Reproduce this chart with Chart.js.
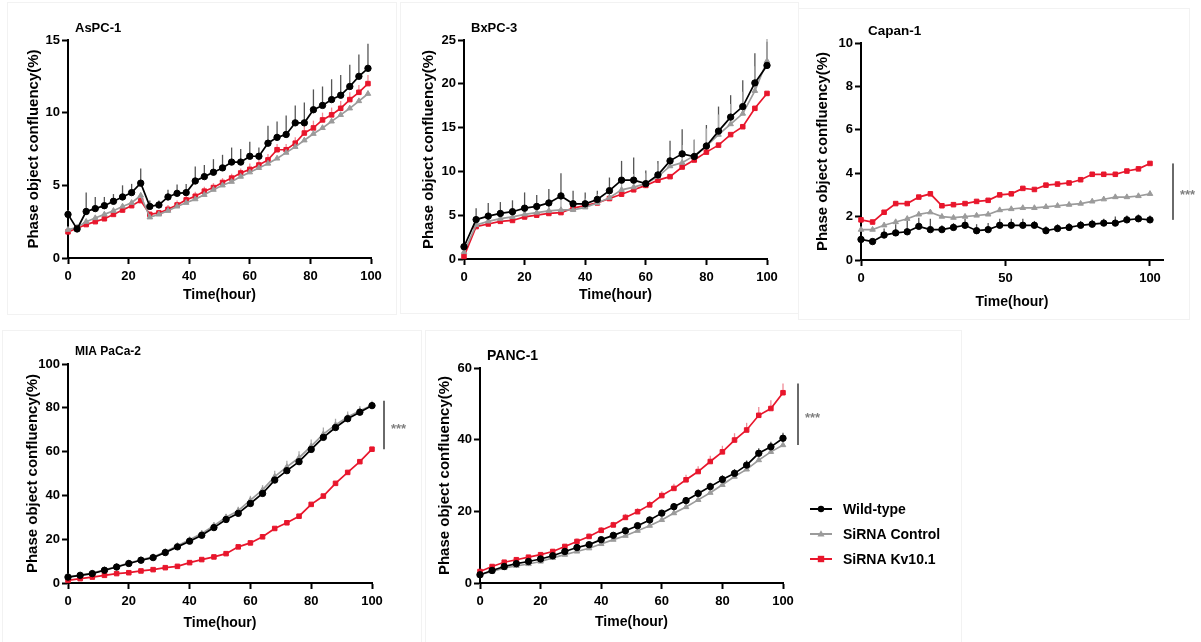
<!DOCTYPE html>
<html>
<head>
<meta charset="utf-8">
<title>Phase object confluency</title>
<script src="https://cdn.jsdelivr.net/npm/chart.js@4.4.0/dist/chart.umd.min.js"></script>
<style>
  body { margin: 0; background: #fff; }
  #wrap { position: relative; width: 1201px; height: 642px; overflow: hidden; }
  .frame { position: absolute; border: 1px solid #f2f2f2; }
  canvas { position: absolute; }
</style>
</head>
<body>
<div id="wrap">
  <div class="frame" style="left:7px;top:2px;width:388px;height:311px"></div>
  <div class="frame" style="left:400px;top:2px;width:397px;height:310px"></div>
  <div class="frame" style="left:798px;top:8px;width:390px;height:310px"></div>
  <div class="frame" style="left:2px;top:330px;width:418px;height:320px"></div>
  <div class="frame" style="left:425px;top:330px;width:535px;height:320px"></div>

  <canvas id="aspc"  width="397" height="316" style="left:0;top:0"></canvas>
  <canvas id="bxpc"  width="398" height="316" style="left:398px;top:0"></canvas>
  <canvas id="capan" width="404" height="320" style="left:797px;top:0"></canvas>
  <canvas id="mia"   width="422" height="320" style="left:0;top:322px"></canvas>
  <canvas id="panc"  width="540" height="320" style="left:424px;top:322px"></canvas>
</div>

<script>
// sampling times (hours)
const hours3 = [0, 3, 6, 9, 12, 15, 18, 21, 24, 27, 30, 33, 36, 39, 42, 45, 48, 51, 54, 57, 60, 63, 66, 69, 72, 75, 78, 81, 84, 87, 90, 93, 96, 99];
const hours4 = [0, 4, 8, 12, 16, 20, 24, 28, 32, 36, 40, 44, 48, 52, 56, 60, 64, 68, 72, 76, 80, 84, 88, 92, 96, 100];

// AsPC-1
const aspcWild = [3.0, 2.0, 3.2, 3.4, 3.6, 3.9, 4.2, 4.5, 5.15, 3.55, 3.65, 4.2, 4.45, 4.5, 5.3, 5.6, 5.9, 6.2, 6.6, 6.6, 7.0, 7.0, 7.9, 8.3, 8.5, 9.3, 9.3, 10.2, 10.5, 10.9, 11.2, 11.8, 12.5, 13.05];
const aspcCtrl = [1.95, 2.1, 2.5, 2.75, 3.0, 3.25, 3.55, 3.8, 4.3, 2.8, 3.0, 3.25, 3.55, 3.8, 4.05, 4.35, 4.7, 5.0, 5.25, 5.6, 5.9, 6.2, 6.5, 6.85, 7.25, 7.65, 8.1, 8.55, 8.95, 9.4, 9.85, 10.3, 10.8, 11.3];
const aspcKv   = [1.8, 2.05, 2.3, 2.5, 2.7, 3.0, 3.3, 3.6, 3.95, 3.0, 3.1, 3.35, 3.65, 4.0, 4.25, 4.6, 4.85, 5.2, 5.5, 5.85, 6.1, 6.4, 6.75, 7.45, 7.45, 7.9, 8.6, 8.95, 9.5, 9.85, 10.3, 10.9, 11.4, 12.0];
const aspcWildErr = [0.3, 0.2, 1.3, 0.8, 0.6, 0.5, 0.8, 0.6, 1.0, 0.4, 0.3, 0.5, 0.6, 0.6, 1.0, 0.8, 0.9, 0.9, 1.0, 0.9, 1.0, 0.6, 1.2, 1.1, 1.3, 1.2, 1.4, 1.4, 1.3, 1.4, 1.4, 1.5, 1.5, 1.7];
const aspcKvErr   = [0.2, 0.2, 0.3, 0.3, 0.3, 0.3, 0.3, 0.3, 0.4, 0.2, 0.2, 0.3, 0.3, 0.3, 0.3, 0.3, 0.3, 0.3, 0.3, 0.3, 0.4, 0.4, 0.4, 0.4, 0.4, 0.4, 0.5, 0.5, 0.5, 0.5, 0.5, 0.5, 0.5, 0.6];

// BxPC-3
const bxWild = [1.4, 4.5, 4.9, 5.2, 5.4, 5.8, 6.0, 6.4, 7.2, 6.3, 6.3, 6.8, 7.8, 9.0, 9.0, 8.6, 9.6, 11.2, 12.0, 11.7, 12.9, 14.6, 16.2, 17.4, 20.1, 22.1];
const bxCtrl = [0.8, 3.9, 4.3, 4.6, 4.8, 5.1, 5.3, 5.5, 5.6, 5.6, 5.9, 6.4, 7.0, 7.9, 8.2, 8.6, 9.4, 10.6, 11.0, 11.8, 12.9, 14.2, 15.4, 16.6, 19.2, 22.6];
const bxKv   = [0.3, 3.7, 4.0, 4.3, 4.4, 4.8, 5.0, 5.2, 5.3, 5.8, 6.1, 6.4, 6.9, 7.4, 7.9, 8.4, 9.0, 9.4, 10.5, 11.3, 12.2, 13.0, 14.2, 15.1, 17.2, 18.9];
const bxWildErr = [0.3, 1.3, 1.5, 1.3, 1.3, 1.8, 1.3, 1.6, 2.6, 1.5, 1.3, 1.0, 1.5, 2.2, 2.6, 1.5, 1.6, 2.3, 2.8, 1.9, 2.4, 2.8, 2.5, 3.0, 3.4, 2.7];
const bxCtrlErr = [0.3, 0.8, 0.8, 0.8, 0.8, 1.0, 1.0, 1.0, 1.5, 1.2, 1.0, 1.0, 1.2, 1.5, 1.5, 1.2, 1.5, 1.8, 2.0, 1.8, 2.0, 2.3, 2.3, 2.5, 2.8, 2.5];

// Capan-1
const capWild = [0.95, 0.85, 1.15, 1.25, 1.3, 1.55, 1.4, 1.4, 1.5, 1.6, 1.35, 1.4, 1.6, 1.6, 1.6, 1.6, 1.35, 1.45, 1.5, 1.6, 1.65, 1.7, 1.7, 1.85, 1.9, 1.85];
const capCtrl = [1.4, 1.4, 1.6, 1.75, 1.9, 2.1, 2.2, 2.0, 1.95, 2.0, 2.05, 2.1, 2.3, 2.35, 2.4, 2.4, 2.45, 2.5, 2.55, 2.6, 2.7, 2.8, 2.9, 2.9, 2.95, 3.05];
const capKv   = [1.85, 1.75, 2.2, 2.6, 2.6, 2.9, 3.05, 2.5, 2.55, 2.6, 2.7, 2.75, 3.0, 3.05, 3.3, 3.25, 3.45, 3.5, 3.55, 3.7, 3.95, 3.95, 3.95, 4.1, 4.2, 4.45];
const capWildErr = [0.1, 0.1, 0.3, 0.4, 0.5, 0.4, 0.5, 0.2, 0.2, 0.3, 0.3, 0.3, 0.3, 0.3, 0.3, 0.2, 0.2, 0.2, 0.2, 0.2, 0.2, 0.2, 0.3, 0.2, 0.2, 0.2];

// MIA PaCa-2
const miaWild = [2.7, 3.5, 4.3, 5.8, 7.3, 8.9, 10.4, 11.6, 13.9, 16.5, 19.1, 21.8, 25.3, 29.0, 31.8, 36.3, 40.9, 47.0, 51.3, 55.4, 61.0, 66.5, 71.0, 75.0, 78.0, 81.0];
const miaCtrl = [2.8, 3.6, 4.5, 6.0, 7.5, 9.1, 10.6, 11.9, 14.3, 17.0, 19.7, 22.6, 26.2, 30.0, 33.0, 37.8, 42.5, 48.6, 53.0, 57.2, 62.5, 68.0, 72.2, 75.8, 78.6, 81.2];
const miaKv   = [1.2, 2.0, 2.7, 3.5, 4.3, 4.7, 5.5, 6.1, 7.0, 7.6, 9.3, 10.7, 11.9, 13.4, 16.5, 18.3, 21.1, 24.9, 27.5, 30.5, 35.9, 39.7, 45.5, 50.5, 55.4, 61.1];
const miaCtrlErr = [0.3, 0.3, 0.4, 0.5, 0.6, 0.7, 0.8, 0.9, 1.0, 1.1, 1.2, 1.3, 1.5, 1.6, 1.8, 2.0, 2.2, 2.6, 2.8, 3.0, 3.0, 3.0, 2.8, 2.5, 2.2, 2.0];

// PANC-1
const pancWild = [2.3, 3.5, 4.6, 5.4, 6.0, 6.7, 7.6, 8.8, 9.9, 10.7, 12.1, 13.3, 14.6, 16.0, 17.6, 19.5, 21.3, 23.0, 25.0, 26.9, 28.9, 30.6, 32.9, 36.2, 38.0, 40.4];
const pancCtrl = [2.3, 3.2, 4.2, 4.8, 5.3, 6.0, 7.0, 7.9, 8.8, 9.7, 10.9, 12.1, 13.2, 14.6, 16.0, 17.6, 19.5, 21.2, 23.2, 25.2, 27.4, 29.7, 31.7, 34.3, 36.6, 38.5];
const pancKv   = [3.2, 4.6, 5.8, 6.5, 7.2, 7.9, 8.8, 10.2, 11.6, 13.0, 14.7, 16.2, 18.3, 19.9, 21.8, 24.4, 26.4, 28.8, 31.1, 33.9, 36.6, 39.9, 42.7, 46.8, 48.7, 53.1];
const pancWildErr = [0.3, 0.4, 0.4, 0.4, 0.5, 0.5, 0.5, 0.6, 0.6, 0.6, 0.7, 0.7, 0.8, 0.8, 0.9, 0.9, 1.0, 1.0, 1.1, 1.1, 1.2, 1.2, 1.3, 1.4, 1.4, 1.5];
const pancKvErr   = [0.4, 0.5, 0.5, 0.5, 0.6, 0.6, 0.7, 0.7, 0.8, 0.8, 0.9, 0.9, 1.0, 1.0, 1.1, 1.2, 1.3, 1.4, 1.5, 1.6, 1.7, 1.9, 2.0, 2.3, 2.3, 2.6];

const seriesNames   = ['Wild-type', 'SiRNA Control', 'SiRNA Kv10.1'];
const seriesColors  = ['#000000', '#9b9b9b', '#e8162c'];
const seriesMarkers = ['circle', 'triangle', 'rect'];

const FONT = '"Liberation Sans", Arial, sans-serif';
Chart.defaults.font.family = FONT;
Chart.defaults.color = '#000';

function pts(times, vals) {
  return times.map((t, i) => ({ x: t, y: vals[i] }));
}

// upward SD bars, drawn beneath the lines
const errorBars = {
  id: 'errorBars',
  beforeDatasetsDraw(chart) {
    const { ctx } = chart;
    const y = chart.scales.y;
    ctx.save();
    chart.data.datasets.forEach((ds, i) => {
      if (!ds.errors) return;
      const meta = chart.getDatasetMeta(i);
      ctx.strokeStyle = ds.errorColor;
      ctx.lineWidth = 1.3;
      meta.data.forEach((pt, j) => {
        const top = y.getPixelForValue(ds.data[j].y + ds.errors[j]);
        ctx.beginPath();
        ctx.moveTo(pt.x, pt.y);
        ctx.lineTo(pt.x, top);
        ctx.stroke();
      });
    });
    ctx.restore();
  }
};

// cell-line name in the top-left corner of the plot
const panelTitle = {
  id: 'panelTitle',
  afterDraw(chart, args, opts) {
    const { ctx, chartArea } = chart;
    ctx.save();
    ctx.font = 'bold ' + opts.size + 'px ' + FONT;
    ctx.fillStyle = '#000';
    ctx.textBaseline = 'middle';
    ctx.fillText(opts.text, chartArea.left + 7, chartArea.top - 12);
    ctx.restore();
  }
};

// bracket + asterisks spanning the end values
const sigBar = {
  id: 'sigBar',
  afterDraw(chart, args, opts) {
    if (!opts.show) return;
    const { ctx } = chart;
    const { x, y } = chart.scales;
    const ends = chart.data.datasets.map(ds => ds.data[ds.data.length - 1].y);
    const tops = chart.data.datasets.map(ds => {
      const n = ds.data.length - 1;
      return ds.data[n].y + (ds.errors ? ds.errors[n] : 0);
    });
    const y0 = y.getPixelForValue(Math.min(...ends));
    const y1 = y.getPixelForValue(Math.max(...tops));
    const bx = x.getPixelForValue(100) + opts.gap;
    ctx.save();
    ctx.strokeStyle = '#6a6a6a';
    ctx.lineWidth = 2;
    ctx.beginPath();
    ctx.moveTo(bx, y0);
    ctx.lineTo(bx, y1);
    ctx.stroke();
    ctx.fillStyle = '#808080';
    ctx.font = 'bold 13px ' + FONT;
    ctx.textBaseline = 'middle';
    ctx.fillText('***', bx + 7, (y0 + y1) / 2 + 4);
    ctx.restore();
  }
};

function drawMarker(ctx, style, cx, cy, r) {
  ctx.beginPath();
  if (style === 'rect') {
    ctx.rect(cx - r, cy - r, 2 * r, 2 * r);
  } else if (style === 'triangle') {
    ctx.moveTo(cx, cy - r * 1.2);
    ctx.lineTo(cx + r * 1.1, cy + r * 0.8);
    ctx.lineTo(cx - r * 1.1, cy + r * 0.8);
    ctx.closePath();
  } else {
    ctx.arc(cx, cy, r, 0, Math.PI * 2);
  }
  ctx.fill();
}

// legend to the right of the PANC-1 plot
const sideLegend = {
  id: 'sideLegend',
  afterDraw(chart, args, opts) {
    if (!opts.show) return;
    const { ctx, chartArea } = chart;
    ctx.save();
    ctx.font = 'bold 14px ' + FONT;
    ctx.textBaseline = 'middle';
    chart.data.datasets.forEach((ds, i) => {
      const yy = chartArea.bottom - 74 + i * 25;
      const x0 = chartArea.right + 27;
      ctx.strokeStyle = ds.borderColor;
      ctx.fillStyle = ds.borderColor;
      ctx.lineWidth = 2;
      ctx.beginPath();
      ctx.moveTo(x0, yy);
      ctx.lineTo(x0 + 22, yy);
      ctx.stroke();
      drawMarker(ctx, ds.pointStyle, x0 + 11, yy, 3.2);
      ctx.fillStyle = '#000';
      ctx.fillText(ds.label, x0 + 33, yy + 1);
    });
    ctx.restore();
  }
};

function axisCommon() {
  return {
    grid: { drawOnChartArea: false, drawTicks: true, tickLength: 6, tickWidth: 2, tickColor: '#000' },
    border: { display: true, color: '#000', width: 2 }
  };
}

function buildPanel(id, p) {
  const errColors = ['#555', '#aaa', '#f08a96'];
  const datasets = p.series.map((vals, k) => ({
    label: seriesNames[k],
    data: pts(p.times, vals),
    errors: p.errors[k],
    errorColor: errColors[k],
    borderColor: seriesColors[k],
    backgroundColor: seriesColors[k],
    pointStyle: seriesMarkers[k],
    pointRadius: 3.2,
    pointBorderWidth: 1,
    borderWidth: 1.7,
    tension: 0,
    clip: false
  }));

  return new Chart(document.getElementById(id), {
    type: 'line',
    data: { datasets },
    options: {
      responsive: false,
      animation: false,
      events: [],
      layout: { padding: { left: 0, top: p.padT, right: p.padR, bottom: 0 } },
      plugins: {
        legend: { display: false },
        tooltip: { enabled: false },
        panelTitle: { text: p.name, size: p.titleSize },
        sigBar: { show: !!p.sig, gap: p.sig || 0 },
        sideLegend: { show: !!p.legend }
      },
      scales: {
        x: Object.assign(axisCommon(), {
          type: 'linear',
          min: 0,
          max: p.xMax,
          ticks: { stepSize: p.xStep, includeBounds: false, padding: 5, color: '#000',
                   font: { size: 13, weight: 'bold' } },
          title: { display: true, text: 'Time(hour)', color: '#000',
                   font: { size: 14, weight: 'bold' }, padding: { top: 0, bottom: p.xTitlePad } },
          afterFit(s) { s.height = p.xH; }
        }),
        y: Object.assign(axisCommon(), {
          min: 0,
          max: p.yMax,
          ticks: { stepSize: p.yStep, padding: 2, color: '#000',
                   font: { size: 13, weight: 'bold' } },
          title: { display: true, text: 'Phase object confluency(%)', color: '#000',
                   font: { size: 15, weight: 'bold' }, padding: { top: p.yTitlePad, bottom: 0 } },
          afterFit(s) { s.width = p.yW; }
        })
      }
    },
    plugins: [errorBars, panelTitle, sigBar, sideLegend]
  });
}

buildPanel('aspc', {
  name: 'AsPC-1', titleSize: 13, times: hours3,
  series: [aspcWild, aspcCtrl, aspcKv], errors: [aspcWildErr, null, aspcKvErr],
  xMax: 100, xStep: 20, yMax: 15, yStep: 5,
  yW: 68, padR: 26, padT: 40, xH: 58, yTitlePad: 25, xTitlePad: 12.6
});

buildPanel('bxpc', {
  name: 'BxPC-3', titleSize: 13, times: hours4,
  series: [bxWild, bxCtrl, bxKv], errors: [bxWildErr, bxCtrlErr, null],
  xMax: 100, xStep: 20, yMax: 25, yStep: 5,
  yW: 66, padR: 29, padT: 40, xH: 57, yTitlePad: 22, xTitlePad: 12.6
});

buildPanel('capan', {
  name: 'Capan-1', titleSize: 13.5, times: hours4,
  series: [capWild, capCtrl, capKv], errors: [capWildErr, null, null],
  xMax: 104.5, xStep: 50, yMax: 10, yStep: 2,
  yW: 64, padR: 38, padT: 43, xH: 60, yTitlePad: 17, xTitlePad: 9.6, sig: 23
});

buildPanel('mia', {
  name: 'MIA PaCa-2', titleSize: 12, times: hours4,
  series: [miaWild, miaCtrl, miaKv], errors: [null, miaCtrlErr, null],
  xMax: 100, xStep: 20, yMax: 100, yStep: 20,
  yW: 68, padR: 50, padT: 42, xH: 59, yTitlePad: 24, xTitlePad: 10.6, sig: 12
});

buildPanel('panc', {
  name: 'PANC-1', titleSize: 14, times: hours4,
  series: [pancWild, pancCtrl, pancKv], errors: [pancWildErr, null, pancKvErr],
  xMax: 100, xStep: 20, yMax: 60, yStep: 20,
  yW: 56, padR: 181, padT: 46, xH: 59, yTitlePad: 12, xTitlePad: 11.6, sig: 15, legend: true
});
</script>
</body>
</html>
